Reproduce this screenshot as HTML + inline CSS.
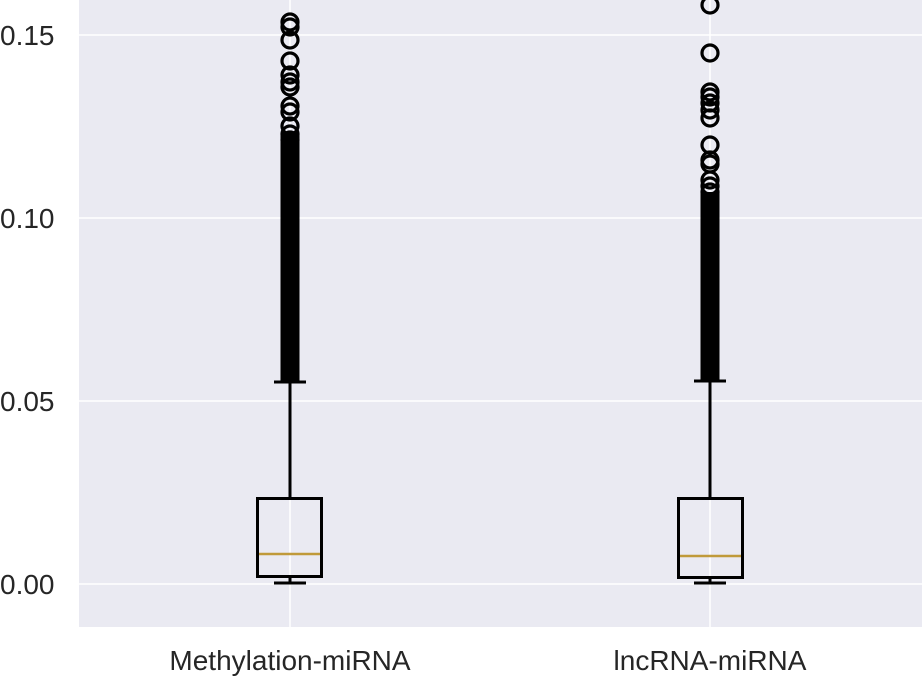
<!DOCTYPE html>
<html><head><style>body{margin:0;background:#fff}svg{display:block}</style></head><body>
<svg width="922" height="692" xmlns="http://www.w3.org/2000/svg" font-family="Liberation Sans, sans-serif">
<rect x="79" y="0" width="843" height="627" fill="#eaeaf2"/>
<g stroke="#fff" stroke-width="1.5">
<line x1="79" x2="922" y1="35" y2="35"/><line x1="79" x2="922" y1="218" y2="218"/>
<line x1="79" x2="922" y1="401" y2="401"/><line x1="79" x2="922" y1="584" y2="584"/>
<line x1="290" x2="290" y1="0" y2="627"/><line x1="710" x2="710" y1="0" y2="627"/>
</g>
<g fill="#262626" font-size="28">
<text x="0" y="45">0.15</text><text x="0" y="228">0.10</text><text x="0" y="411">0.05</text><text x="0" y="594">0.00</text>
<text x="290" y="670" text-anchor="middle">Methylation-miRNA</text>
<text x="710" y="670" text-anchor="middle">lncRNA-miRNA</text>
</g>
<g fill="none" stroke="#000" stroke-width="3">
<rect x="257.5" y="498.5" width="64" height="78"/>
<line x1="290" x2="290" y1="498" y2="382"/><line x1="290" x2="290" y1="577" y2="583"/>
<line x1="274" x2="306" y1="382" y2="382"/><line x1="274" x2="306" y1="583" y2="583"/>
<rect x="678.5" y="498.5" width="64" height="79"/>
<line x1="710" x2="710" y1="498" y2="381"/><line x1="710" x2="710" y1="578" y2="583"/>
<line x1="694" x2="726" y1="381" y2="381"/><line x1="694" x2="726" y1="583" y2="583"/>
</g>
<line x1="259" x2="320" y1="554" y2="554" stroke="#c09a3a" stroke-width="2.5"/>
<line x1="680" x2="741" y1="556" y2="556" stroke="#c09a3a" stroke-width="2.5"/>
<g fill="none" stroke="#000" stroke-width="3.2">
<circle cx="290" cy="22" r="8"/><circle cx="290" cy="27" r="8"/><circle cx="290" cy="40" r="8"/>
<circle cx="290" cy="61" r="8"/><circle cx="290" cy="75" r="8"/><circle cx="290" cy="82" r="8"/><circle cx="290" cy="87" r="8"/>
<circle cx="290" cy="106" r="8"/><circle cx="290" cy="112" r="8"/><circle cx="290" cy="126" r="8"/>
<circle cx="710" cy="5" r="8"/><circle cx="710" cy="53" r="8"/><circle cx="710" cy="92" r="8"/><circle cx="710" cy="97" r="8"/>
<circle cx="710" cy="103" r="8"/><circle cx="710" cy="110" r="8"/><circle cx="710" cy="118" r="8"/><circle cx="710" cy="145" r="8"/>
<circle cx="710" cy="160" r="8"/><circle cx="710" cy="164" r="8"/><circle cx="710" cy="180" r="8"/><circle cx="710" cy="186" r="8"/>
</g>
<g fill="none" stroke="#000" stroke-width="3.2">
<line x1="290" x2="290" y1="134" y2="382" stroke-width="19"/>
<line x1="710" x2="710" y1="192" y2="381" stroke-width="19"/>
<circle cx="290" cy="134" r="8"/><circle cx="290" cy="140" r="8"/>
<circle cx="710" cy="192" r="8"/>
</g>
</svg>
</body></html>
